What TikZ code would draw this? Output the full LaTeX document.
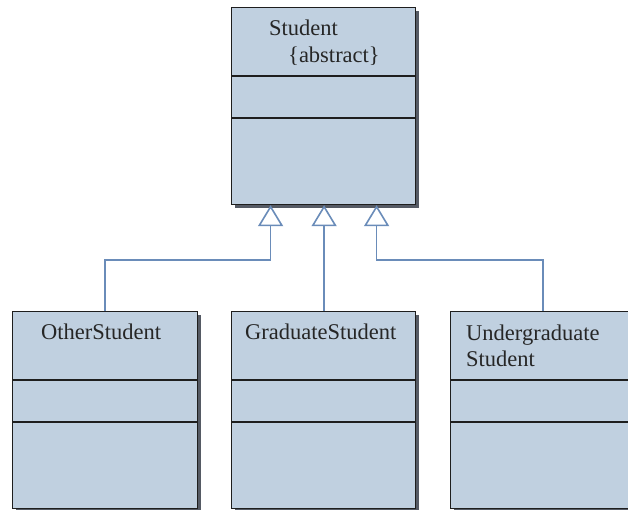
\documentclass[tikz,border=0pt]{standalone}
\usepackage{fontspec}
\setmainfont{Liberation Serif}
\usetikzlibrary{arrows.meta,shadows,calc}
\definecolor{boxfill}{RGB}{192,208,224}
\definecolor{boxline}{RGB}{30,30,30}
\definecolor{shadowc}{RGB}{85,90,100}
\definecolor{linkc}{RGB}{106,140,185}
\tikzset{
  classbox/.style={draw=boxline, line width=1.2pt, fill=boxfill, rectangle, anchor=north west,
    minimum width=184pt, minimum height=197pt, inner sep=0pt,
    drop shadow={shadow xshift=3pt, shadow yshift=-3pt, fill=shadowc, opacity=1}},
  divider/.style={draw=boxline, line width=1.1pt},
  lbl/.style={font=\fontsize{22.5}{26}\selectfont, text=black!85, inner sep=0pt, anchor=base west},
  inh/.style={draw=linkc, line width=1.6pt, -{Triangle[open, length=21pt, width=25pt, line width=1.6pt]}},
}
\begin{document}
\begin{tikzpicture}[x=1pt,y=-1pt]
\useasboundingbox (0,0) rectangle (628,509);
\fill[white] (0,0) rectangle (628,509);
% top class
\node[classbox] (student) at (231,7) {};
\draw[divider] (231,76) -- (415,76);
\draw[divider] (231,118) -- (415,118);
\node[lbl] (tstudent) at (269,35) {Student};
\node[lbl] (tabs) at (288,62) {\{abstract\}};
% bottom classes
\node[classbox, minimum width=185pt] (other) at (12,311) {};
\node[classbox] (grad) at (231,311) {};
\node[classbox, minimum width=185pt] (under) at (450,311) {};
\foreach \a/\b in {12/197, 231/415, 450/640}{
  \draw[divider] (\a,380) -- (\b,380);
  \draw[divider] (\a,422) -- (\b,422);
}
\node[lbl] (tother) at (41,339) {OtherStudent};
\node[lbl] (tgrad) at (245,339) {GraduateStudent};
\node[lbl] (tunder1) at (466,340) {Undergraduate};
\node[lbl] (tunder2) at (466,366) {Student};
% connectors
\draw[inh] (other.north) -- (other.north |- 0,260) -| ([xshift=-53pt]student.south);
\draw[inh] ([xshift=0.5pt]grad.north) -- ([xshift=0.5pt]student.south);
\draw[inh] (under.north) -- (under.north |- 0,260) -| ([xshift=53pt]student.south);
\end{tikzpicture}
\end{document}
